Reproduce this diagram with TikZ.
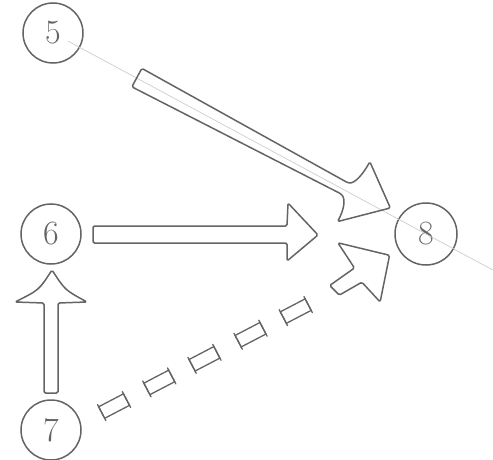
\documentclass[tikz,border=0pt]{standalone}
\usetikzlibrary{calc}
\definecolor{pencil}{RGB}{100,100,100}
\definecolor{faint}{RGB}{205,205,205}
\begin{document}
\begin{tikzpicture}[x=1pt,y=1pt,
  state/.style={circle, draw=pencil, line width=1.5pt, minimum size=60pt, inner sep=0pt, text=pencil, font=\fontsize{34}{34}\selectfont},
  sketch/.style={draw=pencil, line width=1.5pt, line join=round, rounded corners=1.5pt},
  rung/.style={draw=pencil, line width=1.3pt, line cap=round},
  guide/.style={draw=faint, line width=0.7pt}]
\useasboundingbox (0,0) rectangle (493,-460);
\node[state] (n5) at (53,-33) {5};
\node[state] (n6) at (51,-234) {6};
\node[state] (n7) at (51,-430) {7};
\node[state, minimum size=62pt] (n8) at (426,-234) {8};

% faint guide line through 5 and 8
\coordinate (gStart) at ($(n5)!17pt!(n8)$);
\coordinate (gEnd) at ($(n5)!1.18!(n8)$);
\draw[guide] (gStart) -- (gEnd);

% 5 -> 8 : tapered wide arrow
\pgfmathanglebetweenpoints{\pgfpointanchor{n5}{center}}{\pgfpointanchor{n8}{center}}\let\angA\pgfmathresult
\begin{scope}[shift={(n5)}, rotate=\angA]
  \draw[sketch] (95,11) -- (330,8) .. controls (338,10) and (340,26) .. (340,37)
    -- (380,6) -- (340,-31) .. controls (340,-18) and (337,-8) .. (330,-5)
    -- (95,-10) -- cycle;
\end{scope}

% 6 -> 8 : wide arrow
\pgfmathanglebetweenpoints{\pgfpointanchor{n6}{center}}{\pgfpointanchor{n8}{center}}\let\angB\pgfmathresult
\begin{scope}[shift={(n6)}, rotate=\angB]
  \draw[sketch] (42,8) -- (236,8) -- (237,31) -- (267,-1) -- (236,-27) -- (236,-9) -- (42,-9) -- cycle;
\end{scope}

% 7 -> 6 : wide arrow
\pgfmathanglebetweenpoints{\pgfpointanchor{n7}{center}}{\pgfpointanchor{n6}{center}}\let\angC\pgfmathresult
\begin{scope}[shift={(n7)}, rotate=\angC]
  \draw[sketch] (37,-7) -- (127,-7) -- (128,-36) .. controls (140,-14) .. (160,-1)
    .. controls (140,12) .. (128,36) -- (127,7) -- (37,7) -- cycle;
\end{scope}

% 7 -> 8 : ladder (dashed boxes) arrow
\pgfmathanglebetweenpoints{\pgfpointanchor{n7}{center}}{\pgfpointanchor{n8}{center}}\let\angD\pgfmathresult
\begin{scope}[shift={(n7)}, rotate=\angD]
  \foreach \u in {67,118,169,221,272} {
    \draw[rung] (\u-14,-14.5) rectangle (\u+14,-1.5);
    \draw[rung] (\u-14,-17) -- (\u-14,1) (\u+14,-17) -- (\u+14,1);
  }
  \draw[sketch] (314,-1) -- (344,3) -- (341,33) -- (381,-2) -- (351,-39) -- (344,-13) -- (318,-14) -- cycle;
\end{scope}
\end{tikzpicture}
\end{document}
